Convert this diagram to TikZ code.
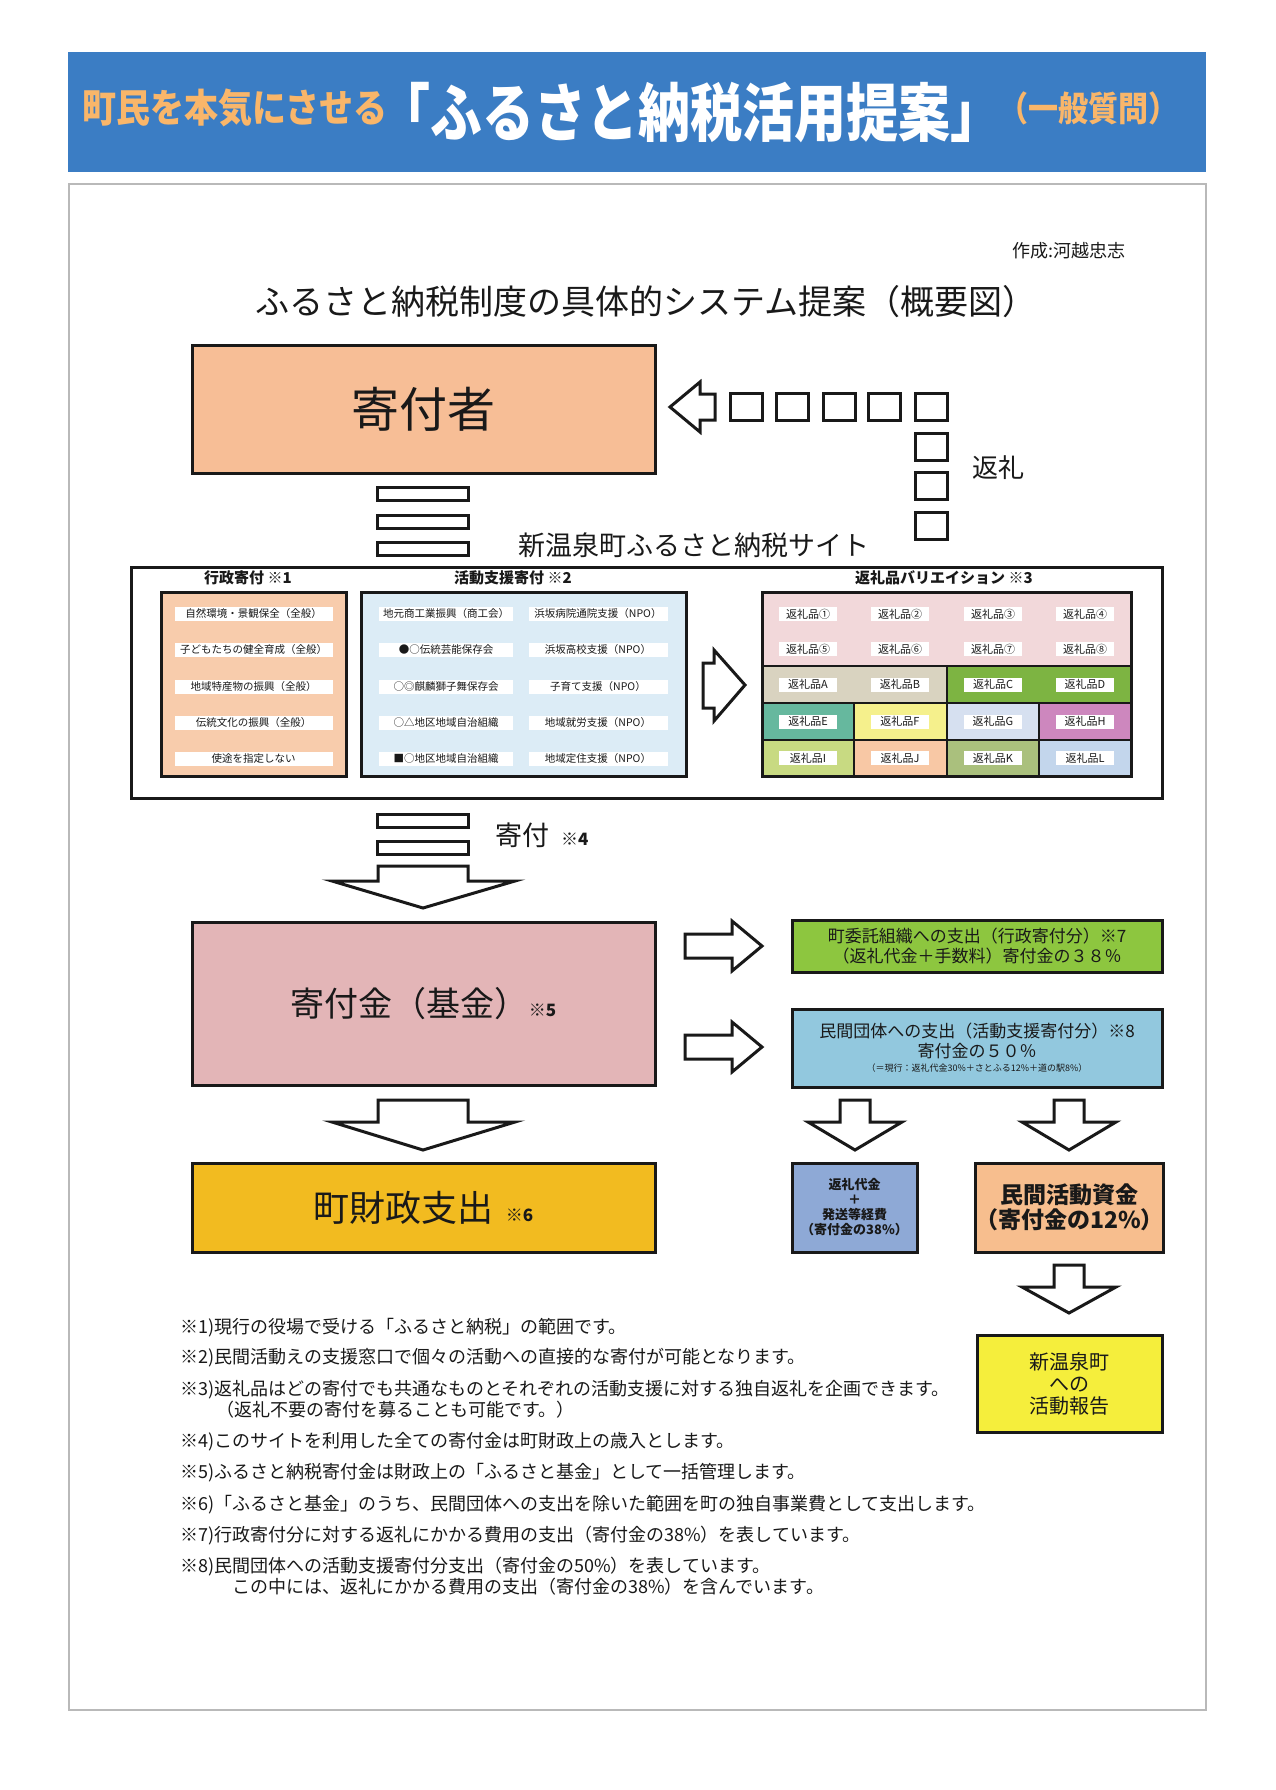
\documentclass[tikz,border=0pt]{standalone}
\usepackage{fontspec}
\usepackage{graphicx}
\setmainfont{Noto Sans CJK JP}
\definecolor{ink}{RGB}{25,25,25}
\definecolor{bannerblue}{RGB}{59,125,196}
\definecolor{titleorange}{RGB}{249,182,106}
\definecolor{donorfill}{RGB}{247,190,150}
\definecolor{fundfill}{RGB}{227,181,183}
\definecolor{townfill}{RGB}{242,187,32}
\definecolor{greenfill}{RGB}{141,198,63}
\definecolor{bluefill}{RGB}{146,200,222}
\definecolor{costfill}{RGB}{142,169,214}
\definecolor{privfill}{RGB}{247,190,142}
\definecolor{yellowfill}{RGB}{245,238,60}
\definecolor{adminfill}{RGB}{248,204,172}
\definecolor{actfill}{RGB}{220,236,246}
\definecolor{gpink}{RGB}{242,216,218}
\definecolor{gtan}{RGB}{217,211,192}
\definecolor{ggreen}{RGB}{125,180,66}
\definecolor{gteal}{RGB}{102,184,158}
\definecolor{gyellow}{RGB}{245,240,140}
\definecolor{ggray}{RGB}{214,224,240}
\definecolor{gmagenta}{RGB}{205,135,190}
\definecolor{glime}{RGB}{200,218,130}
\definecolor{gpeach}{RGB}{248,200,165}
\definecolor{golive}{RGB}{170,192,125}
\definecolor{gsky}{RGB}{195,214,236}
\begin{document}
\begin{tikzpicture}[x=1pt,y=-1pt,
  every node/.style={inner sep=0pt, text=ink},
  box/.style={draw=ink, line width=3pt},
  blockarrow/.style={draw=ink, line width=3pt, fill=white, line join=miter},
  sqbox/.style={draw=ink, line width=3pt, fill=white, minimum width=32pt, minimum height=27pt},
  barbox/.style={draw=ink, line width=3pt, fill=white, minimum width=91pt, minimum height=13pt},
  itemlbl/.style={fill=white, minimum height=14pt, minimum width=#1, font=\fontsize{10.5}{12}\selectfont},
  giftlbl/.style={fill=white, minimum height=14pt, minimum width=58pt, font=\fontsize{11}{12}\selectfont},
  cell/.style={draw=ink, line width=2.5pt},
  hdr/.style={font=\bfseries\fontsize{15}{15}\selectfont},
  note/.style={anchor=west, font=\fontsize{18}{18}\selectfont}]
\useasboundingbox (0,0) rectangle (1276,1790);
\fill[white] (0,0) rectangle (1276,1790);

% banner
\node[fill=bannerblue, minimum width=1138pt, minimum height=120pt] (banner) at (637,112) {};
\node[anchor=west, text=titleorange, font=\bfseries\fontsize{34}{34}\selectfont] (t1) at (82,108) {\scalebox{1}[1.15]{町民を本気にさせる}};
\node[anchor=west, text=white, font=\bfseries\fontsize{52}{52}\selectfont] (t2) at (378,113) {\scalebox{1}[1.22]{「ふるさと納税活用提案」}};
\node[anchor=west, text=titleorange, font=\bfseries\fontsize{30}{30}\selectfont] (t3) at (998,108) {\scalebox{1}[1.15]{（一般質問）}};

% frame
\node[draw=gray!55, line width=1.5pt, minimum width=1137pt, minimum height=1526pt] (frame) at (637.5,947) {};

\node[anchor=east, font=\fontsize{18}{18}\selectfont] (author) at (1126,251) {作成:河越忠志};
\node[font=\fontsize{34}{34}\selectfont] (subtitle) at (646,302) {ふるさと納税制度の具体的システム提案（概要図）};

% donor
\node[box, fill=donorfill, minimum width=463pt, minimum height=128pt, font=\fontsize{48}{48}\selectfont] (donor) at (423.5,409) {寄付者};

% return arrow and squares
\draw[blockarrow] (670,407) -- (700,382) -- (700,394) -- (715,394) -- (715,420) -- (700,420) -- (700,432) -- cycle;
\node[sqbox] (s1) at (746,406.5) {};
\node[sqbox] (s2) at (792.5,406.5) {};
\node[sqbox] (s3) at (839,406.5) {};
\node[sqbox] (s4) at (884,406.5) {};
\node[sqbox] (s5) at (931,406.5) {};
\node[sqbox] (s6) at (931,446.5) {};
\node[sqbox] (s7) at (931,486) {};
\node[sqbox] (s8) at (931,526) {};
\node[anchor=west, font=\fontsize{26}{26}\selectfont] (henrei) at (972,468) {返礼};

% bars to site
\node[barbox] (b1) at (423,494) {};
\node[barbox] (b2) at (423,521.5) {};
\node[barbox] (b3) at (423,549) {};
\node[anchor=west, font=\fontsize{27}{27}\selectfont] (sitename) at (518,545) {新温泉町ふるさと納税サイト};

% site frame
\node[box, fill=white, minimum width=1031pt, minimum height=231pt] (site) at (646.5,682.5) {};
\node[hdr] (h1) at (248,578) {行政寄付 ※1};
\node[hdr] (h2) at (513,578) {活動支援寄付 ※2};
\node[hdr] (h3) at (944,578) {返礼品バリエイション ※3};

\node[box, fill=adminfill, minimum width=185pt, minimum height=184pt] (admin) at (253.5,684) {};
\node[itemlbl=158pt] (a1) at (253.5,614) {自然環境・景観保全（全般）};
\node[itemlbl=158pt] (a2) at (253.5,650) {子どもたちの健全育成（全般）};
\node[itemlbl=158pt] (a3) at (253.5,687) {地域特産物の振興（全般）};
\node[itemlbl=158pt] (a4) at (253.5,723) {伝統文化の振興（全般）};
\node[itemlbl=158pt] (a5) at (253.5,759) {使途を指定しない};

\node[box, fill=actfill, minimum width=325pt, minimum height=184pt] (act) at (523.5,684) {};
\node[itemlbl=134pt] (m1) at (446,614) {地元商工業振興（商工会）};
\node[itemlbl=134pt] (m2) at (446,650) {●○伝統芸能保存会};
\node[itemlbl=134pt] (m3) at (446,687) {○◎麒麟獅子舞保存会};
\node[itemlbl=134pt] (m4) at (446,723) {○△地区地域自治組織};
\node[itemlbl=134pt] (m5) at (446,759) {■○地区地域自治組織};
\node[itemlbl=139pt] (n1) at (598,614) {浜坂病院通院支援（NPO）};
\node[itemlbl=139pt] (n2) at (598,650) {浜坂高校支援（NPO）};
\node[itemlbl=139pt] (n3) at (598,687) {子育て支援（NPO）};
\node[itemlbl=139pt] (n4) at (598,723) {地域就労支援（NPO）};
\node[itemlbl=139pt] (n5) at (598,759) {地域定住支援（NPO）};

\draw[blockarrow] (703,663) -- (714,663) -- (714,650) -- (745,685) -- (714,721) -- (714,708) -- (703,708) -- cycle;

% gift grid
\node[cell, fill=gpink, minimum width=369pt, minimum height=74pt] (gpinkarea) at (946.5,629) {};
\node[cell, fill=gtan, minimum width=185pt, minimum height=37pt] (cAB) at (854.5,684.5) {};
\node[cell, fill=ggreen, minimum width=184pt, minimum height=37pt] (cCD) at (1039,684.5) {};
\node[cell, fill=gteal, minimum width=92pt, minimum height=37pt] (cE) at (808,721.5) {};
\node[cell, fill=gyellow, minimum width=93pt, minimum height=37pt] (cF) at (900.5,721.5) {};
\node[cell, fill=ggray, minimum width=92pt, minimum height=37pt] (cG) at (993,721.5) {};
\node[cell, fill=gmagenta, minimum width=92pt, minimum height=37pt] (cH) at (1085,721.5) {};
\node[cell, fill=glime, minimum width=92pt, minimum height=36pt] (cI) at (808,758) {};
\node[cell, fill=gpeach, minimum width=93pt, minimum height=36pt] (cJ) at (900.5,758) {};
\node[cell, fill=golive, minimum width=92pt, minimum height=36pt] (cK) at (993,758) {};
\node[cell, fill=gsky, minimum width=92pt, minimum height=36pt] (cL) at (1085,758) {};
\node[draw=ink, line width=3pt, minimum width=369pt, minimum height=184pt] (grid) at (946.5,684) {};

\node[giftlbl] (g1) at (808,614) {返礼品①};
\node[giftlbl] (g2) at (900,614) {返礼品②};
\node[giftlbl] (g3) at (993,614) {返礼品③};
\node[giftlbl] (g4) at (1085,614) {返礼品④};
\node[giftlbl] (g5) at (808,649) {返礼品⑤};
\node[giftlbl] (g6) at (900,649) {返礼品⑥};
\node[giftlbl] (g7) at (993,649) {返礼品⑦};
\node[giftlbl] (g8) at (1085,649) {返礼品⑧};
\node[giftlbl] (gA) at (808,684.5) {返礼品A};
\node[giftlbl] (gB) at (900,684.5) {返礼品B};
\node[giftlbl] (gC) at (993,684.5) {返礼品C};
\node[giftlbl] (gD) at (1085,684.5) {返礼品D};
\node[giftlbl] (gE) at (808,721.5) {返礼品E};
\node[giftlbl] (gF) at (900,721.5) {返礼品F};
\node[giftlbl] (gG) at (993,721.5) {返礼品G};
\node[giftlbl] (gH) at (1085,721.5) {返礼品H};
\node[giftlbl] (gI) at (808,758) {返礼品I};
\node[giftlbl] (gJ) at (900,758) {返礼品J};
\node[giftlbl] (gK) at (993,758) {返礼品K};
\node[giftlbl] (gL) at (1085,758) {返礼品L};

% donation arrow
\node[barbox] (b4) at (423,821) {};
\node[barbox] (b5) at (423,848) {};
\draw[blockarrow] (378,866) -- (468,866) -- (468,881) -- (515,881) -- (423,908) -- (332,881) -- (378,881) -- cycle;
\node[anchor=west] (kifu) at (495,835) {\fontsize{27}{27}\selectfont 寄付\hspace{12pt}{\bfseries\fontsize{17}{17}\selectfont ※4}};

% fund
\node[box, fill=fundfill, minimum width=463pt, minimum height=163pt] (fund) at (423.5,1003.5) {\fontsize{34}{34}\selectfont 寄付金（基金）\hspace{0pt}{\bfseries\fontsize{17}{17}\selectfont ※5}};
\draw[blockarrow] (378,1100) -- (468,1100) -- (468,1122) -- (515,1122) -- (423,1150) -- (332,1122) -- (378,1122) -- cycle;
\node[box, fill=townfill, minimum width=463pt, minimum height=89pt] (town) at (423.5,1207.5) {\fontsize{36}{36}\selectfont 町財政支出\hspace{12pt}{\bfseries\fontsize{17}{17}\selectfont ※6}};

% right side
\draw[blockarrow] (685,934) -- (732,934) -- (732,921) -- (762,946) -- (732,971) -- (732,958) -- (685,958) -- cycle;
\draw[blockarrow] (685,1035) -- (732,1035) -- (732,1022) -- (762,1047) -- (732,1072) -- (732,1059) -- (685,1059) -- cycle;

\node[box, fill=greenfill, minimum width=370pt, minimum height=52pt, align=center, font=\fontsize{17}{20}\selectfont] (entrust) at (977,946) {町委託組織への支出（行政寄付分）※7\\（返礼代金＋手数料）寄付金の３８％};
\node[box, fill=bluefill, minimum width=370pt, minimum height=78pt] (private) at (977,1048) {};
\node[font=\fontsize{17}{17}\selectfont] (p1) at (977,1031) {民間団体への支出（活動支援寄付分）※8};
\node[font=\fontsize{17}{17}\selectfont] (p2) at (977,1051) {寄付金の５０％};
\node[font=\fontsize{9}{9}\selectfont] (p3) at (977,1068) {（＝現行：返礼代金30\%＋さとふる12\%＋道の駅8\%）};

\draw[blockarrow] (840,1100) -- (870,1100) -- (870,1122) -- (902,1122) -- (855,1150) -- (808,1122) -- (840,1122) -- cycle;
\draw[blockarrow] (1054,1100) -- (1084,1100) -- (1084,1122) -- (1116,1122) -- (1069,1150) -- (1022,1122) -- (1054,1122) -- cycle;

\node[box, fill=costfill, minimum width=125pt, minimum height=89pt, align=center, font=\bfseries\fontsize{13}{15}\selectfont] (cost) at (854.5,1207.5) {返礼代金\\＋\\発送等経費\\（寄付金の38\%）};
\node[box, fill=privfill, minimum width=185pt, minimum height=89pt, align=center, font=\bfseries\fontsize{23}{25}\selectfont] (privfund) at (1069.5,1207.5) {民間活動資金\\（寄付金の12\%）};

\draw[blockarrow] (1054,1265) -- (1084,1265) -- (1084,1287) -- (1116,1287) -- (1069,1313) -- (1022,1287) -- (1054,1287) -- cycle;
\node[box, fill=yellowfill, minimum width=185pt, minimum height=97pt, align=center, font=\fontsize{20}{22}\selectfont] (report) at (1069.5,1383.5) {新温泉町\\への\\活動報告};

% notes
\node[note] (nt1) at (180,1328) {※1)現行の役場で受ける「ふるさと納税」の範囲です。};
\node[note] (nt2) at (180,1358) {※2)民間活動えの支援窓口で個々の活動への直接的な寄付が可能となります。};
\node[note] (nt3) at (180,1390) {※3)返礼品はどの寄付でも共通なものとそれぞれの活動支援に対する独自返礼を企画できます。};
\node[note] (nt3b) at (216,1410) {（返礼不要の寄付を募ることも可能です。）};
\node[note] (nt4) at (180,1442) {※4)このサイトを利用した全ての寄付金は町財政上の歳入とします。};
\node[note] (nt5) at (180,1473) {※5)ふるさと納税寄付金は財政上の「ふるさと基金」として一括管理します。};
\node[note] (nt6) at (180,1505) {※6)「ふるさと基金」のうち、民間団体への支出を除いた範囲を町の独自事業費として支出します。};
\node[note] (nt7) at (180,1536) {※7)行政寄付分に対する返礼にかかる費用の支出（寄付金の38\%）を表しています。};
\node[note] (nt8) at (180,1567) {※8)民間団体への活動支援寄付分支出（寄付金の50\%）を表しています。};
\node[note] (nt8b) at (232,1587) {この中には、返礼にかかる費用の支出（寄付金の38\%）を含んでいます。};
\end{tikzpicture}
\end{document}
